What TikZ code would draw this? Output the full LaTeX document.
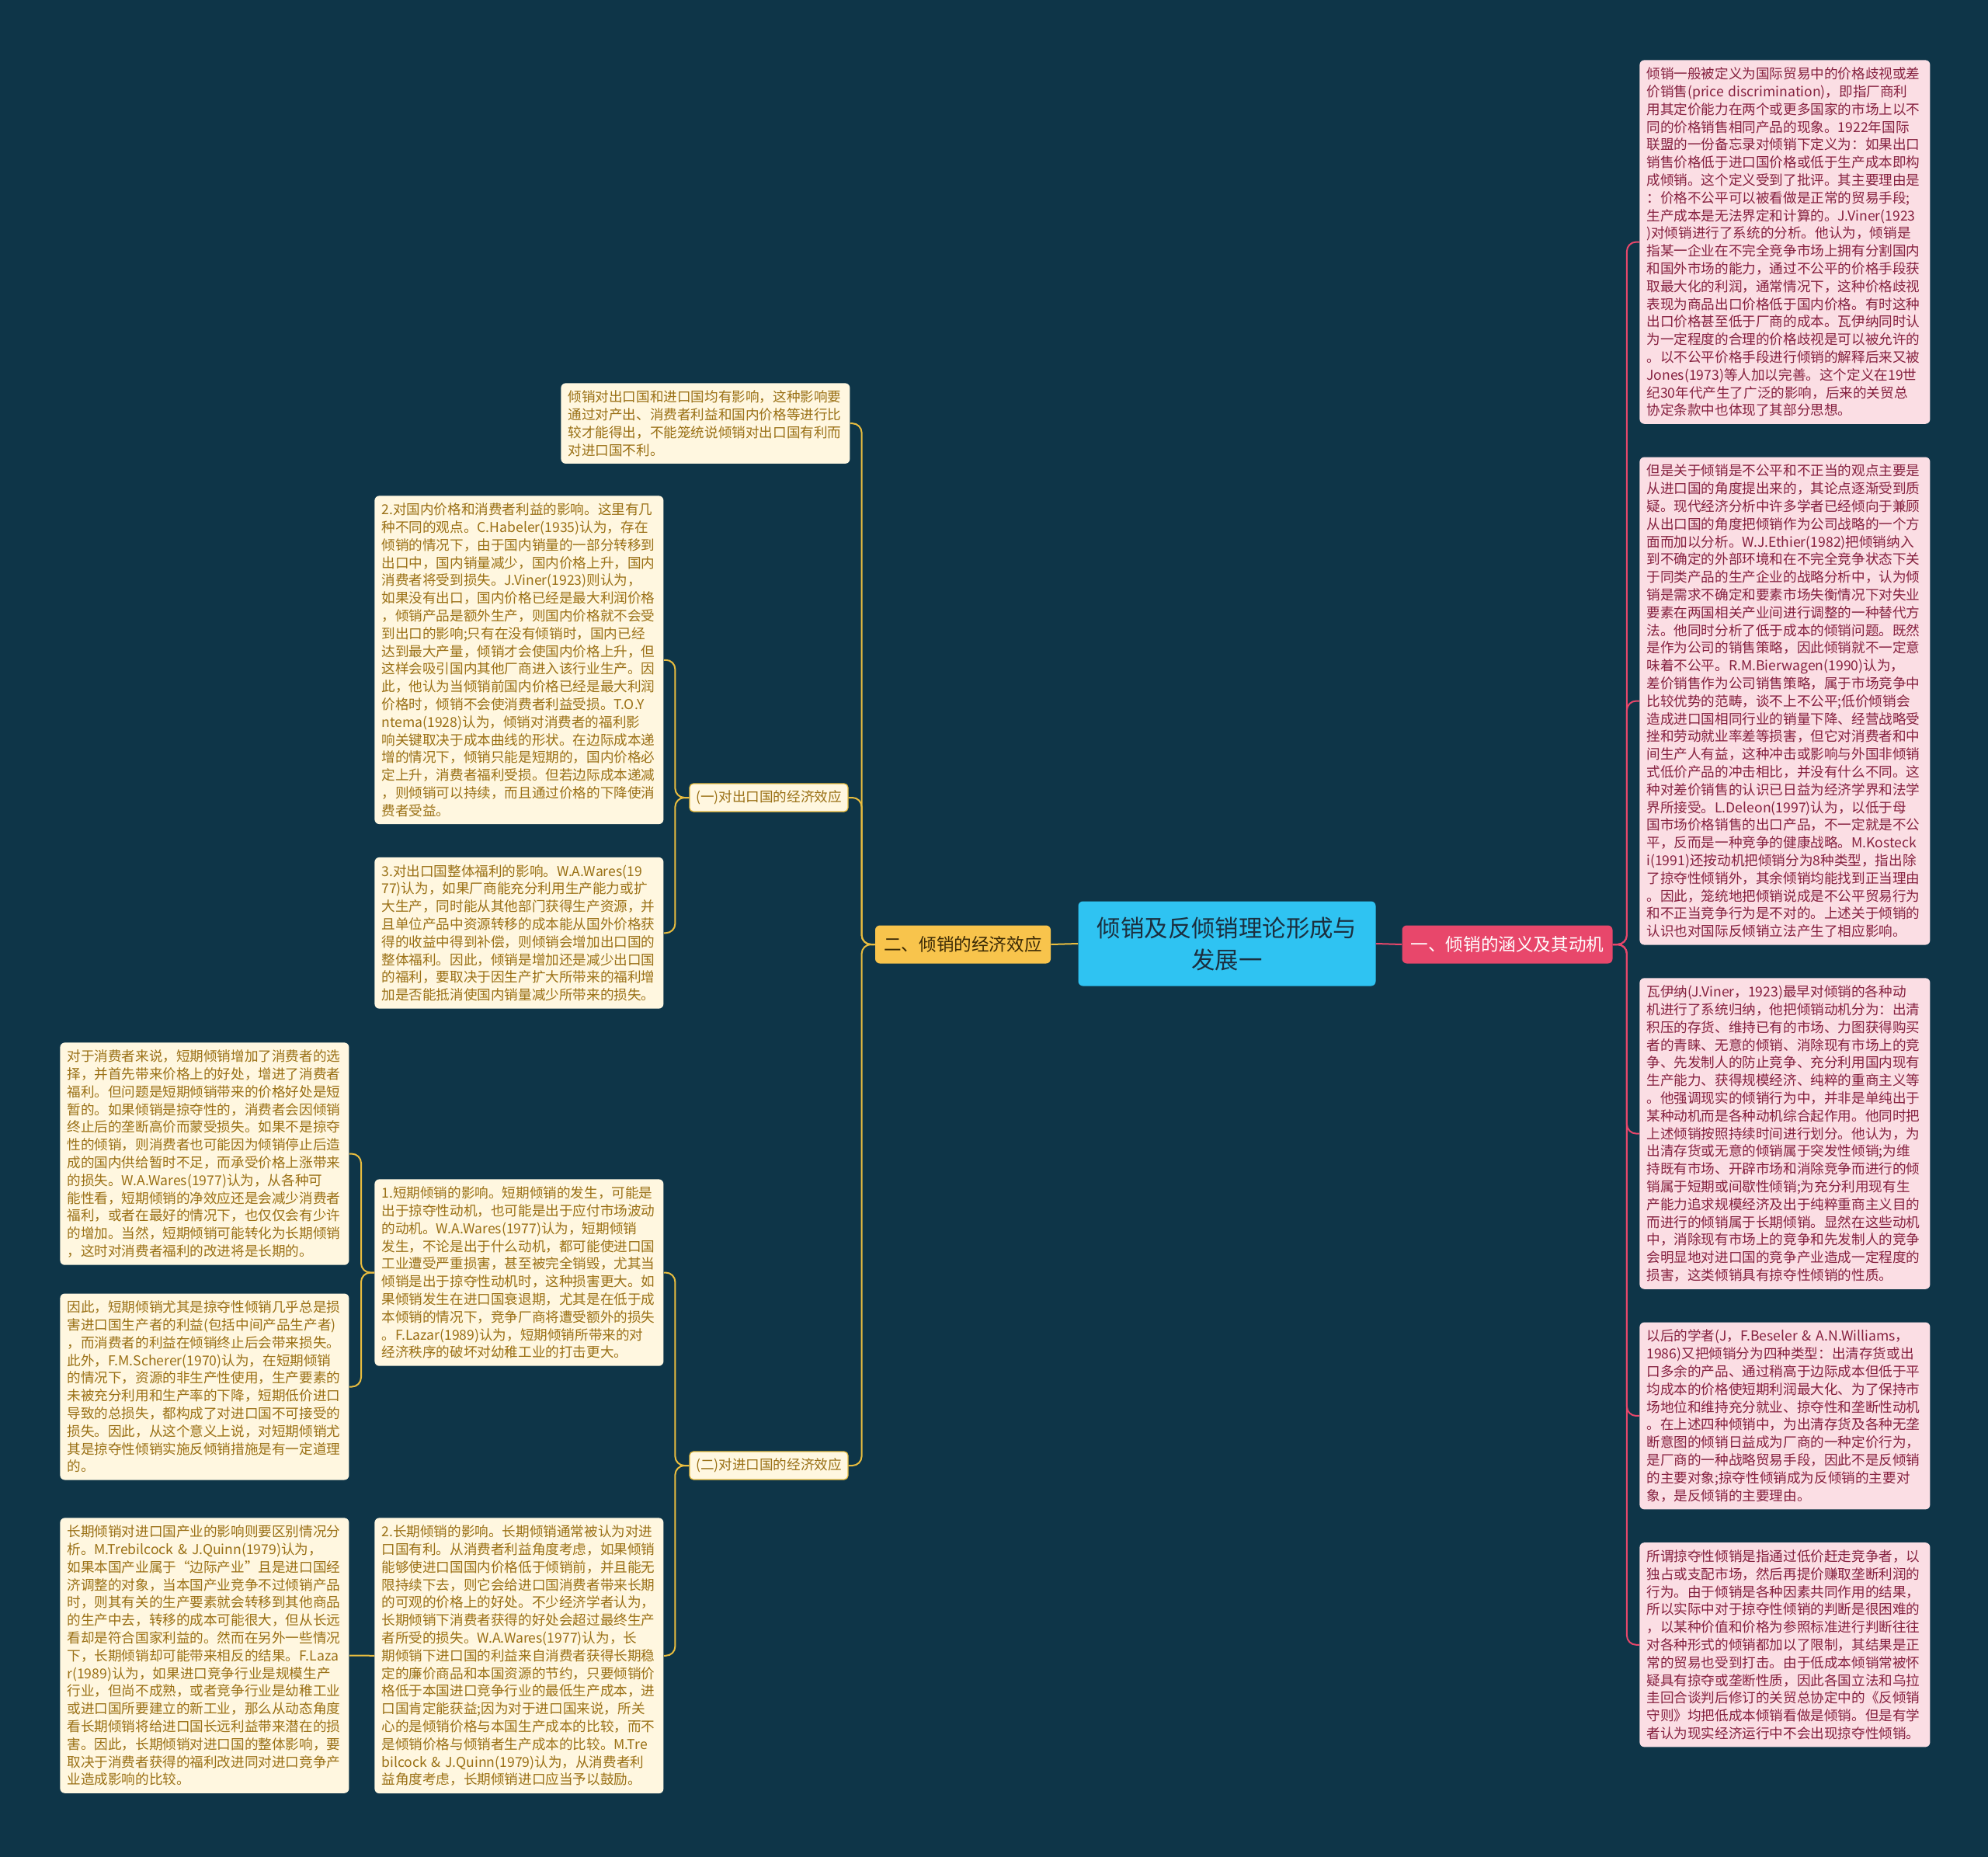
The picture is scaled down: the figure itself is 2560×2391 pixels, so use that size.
\documentclass[tikz,border=0pt]{standalone}
\usepackage{fontspec}
\setmainfont{Noto Sans CJK SC}
\usepackage{xcolor}
\usetikzlibrary{positioning}
\definecolor{BgNavy}{HTML}{0E3548}
\definecolor{RootBlue}{HTML}{2FC3F2}
\definecolor{RootText}{HTML}{1B2F3F}
\definecolor{BranchRed}{HTML}{E8476B}
\definecolor{BranchYellow}{HTML}{F8C44C}
\definecolor{BranchText}{HTML}{3B2A05}
\definecolor{LinkYellow}{HTML}{E9BD3F}
\definecolor{LeafCream}{HTML}{FFF7E0}
\definecolor{LeafBrown}{HTML}{9A7015}
\definecolor{LeafPink}{HTML}{FBDEE4}
\definecolor{LeafMaroon}{HTML}{85203F}
\hyphenpenalty=10000
\exhyphenpenalty=10000

\begin{document}
\begin{tikzpicture}[
            x=0.5pt, y=-0.5pt,
            node distance=21pt,
            root/.style={fill=RootBlue, rounded corners=3pt, text=RootText, minimum width=191.5pt, minimum height=54.5pt, align=center, font=\fontsize{15.2pt}{20.5pt}\selectfont},
            branchr/.style={fill=BranchRed, rounded corners=3pt, text=white, minimum width=135.5pt, minimum height=24.5pt, font=\fontsize{11.3pt}{13pt}\selectfont},
            branchy/.style={fill=BranchYellow, rounded corners=3pt, text=BranchText, minimum width=113pt, minimum height=24.5pt, font=\fontsize{11.3pt}{13pt}\selectfont},
            subbox/.style={draw=LinkYellow, line width=0.6pt, fill=LeafCream, rounded corners=2.5pt, text=LeafBrown, minimum width=102pt, minimum height=18pt, font=\fontsize{8.8pt}{10pt}\selectfont},
            leaf/.style={rounded corners=3pt, inner xsep=4.5pt, inner ysep=4.7pt, align=left, font=\fontsize{8.8pt}{11.4pt}\selectfont},
            leafr/.style={leaf, fill=LeafPink, text=LeafMaroon, text width=178pt},
            leafy/.style={leaf, fill=LeafCream, text=LeafBrown, text width=177pt},
            rlink/.style={draw=BranchRed, line width=1pt, rounded corners=6pt},
            ylink/.style={draw=LinkYellow, line width=1pt, rounded corners=6pt}
        ]
            \path[use as bounding box, fill=BgNavy] (0,0) rectangle (2560,2391);

            % centre and the two main branches
            \node[root] (root) at (1580,1215) {倾销及反倾销理论形成与\\发展一};
            \node[branchr] (rb) at (1941,1216) {一、倾销的涵义及其动机};
            \node[branchy] (lb) at (1240,1216) {二、倾销的经济效应};

            % right side
            \node[leafr, anchor=north west] (r1) at (2111,77) {倾销一般被定义为国际贸易中的价格歧视或差\\
价销售(price~discrimination)，即指厂商利\\
用其定价能力在两个或更多国家的市场上以不\\
同的价格销售相同产品的现象。1922年国际\\
联盟的一份备忘录对倾销下定义为：如果出口\\
销售价格低于进口国价格或低于生产成本即构\\
成倾销。这个定义受到了批评。其主要理由是\\
：价格不公平可以被看做是正常的贸易手段;\\
生产成本是无法界定和计算的。J.Viner(1923\\
)对倾销进行了系统的分析。他认为，倾销是\\
指某一企业在不完全竞争市场上拥有分割国内\\
和国外市场的能力，通过不公平的价格手段获\\
取最大化的利润，通常情况下，这种价格歧视\\
表现为商品出口价格低于国内价格。有时这种\\
出口价格甚至低于厂商的成本。瓦伊纳同时认\\
为一定程度的合理的价格歧视是可以被允许的\\
。以不公平价格手段进行倾销的解释后来又被\\
Jones(1973)等人加以完善。这个定义在19世\\
纪30年代产生了广泛的影响，后来的关贸总\\
协定条款中也体现了其部分思想。};
            \node[leafr, below=of r1] (r2) {但是关于倾销是不公平和不正当的观点主要是\\
从进口国的角度提出来的，其论点逐渐受到质\\
疑。现代经济分析中许多学者已经倾向于兼顾\\
从出口国的角度把倾销作为公司战略的一个方\\
面而加以分析。W.J.Ethier(1982)把倾销纳入\\
到不确定的外部环境和在不完全竞争状态下关\\
于同类产品的生产企业的战略分析中，认为倾\\
销是需求不确定和要素市场失衡情况下对失业\\
要素在两国相关产业间进行调整的一种替代方\\
法。他同时分析了低于成本的倾销问题。既然\\
是作为公司的销售策略，因此倾销就不一定意\\
味着不公平。R.M.Bierwagen(1990)认为，\\
差价销售作为公司销售策略，属于市场竞争中\\
比较优势的范畴，谈不上不公平;低价倾销会\\
造成进口国相同行业的销量下降、经营战略受\\
挫和劳动就业率差等损害，但它对消费者和中\\
间生产人有益，这种冲击或影响与外国非倾销\\
式低价产品的冲击相比，并没有什么不同。这\\
种对差价销售的认识已日益为经济学界和法学\\
界所接受。L.Deleon(1997)认为，以低于母\\
国市场价格销售的出口产品，不一定就是不公\\
平，反而是一种竞争的健康战略。M.Kosteck\\
i(1991)还按动机把倾销分为8种类型，指出除\\
了掠夺性倾销外，其余倾销均能找到正当理由\\
。因此，笼统地把倾销说成是不公平贸易行为\\
和不正当竞争行为是不对的。上述关于倾销的\\
认识也对国际反倾销立法产生了相应影响。};
            \node[leafr, below=of r2] (r3) {瓦伊纳(J.Viner，1923)最早对倾销的各种动\\
机进行了系统归纳，他把倾销动机分为：出清\\
积压的存货、维持已有的市场、力图获得购买\\
者的青睐、无意的倾销、消除现有市场上的竞\\
争、先发制人的防止竞争、充分利用国内现有\\
生产能力、获得规模经济、纯粹的重商主义等\\
。他强调现实的倾销行为中，并非是单纯出于\\
某种动机而是各种动机综合起作用。他同时把\\
上述倾销按照持续时间进行划分。他认为，为\\
出清存货或无意的倾销属于突发性倾销;为维\\
持既有市场、开辟市场和消除竞争而进行的倾\\
销属于短期或间歇性倾销;为充分利用现有生\\
产能力追求规模经济及出于纯粹重商主义目的\\
而进行的倾销属于长期倾销。显然在这些动机\\
中，消除现有市场上的竞争和先发制人的竞争\\
会明显地对进口国的竞争产业造成一定程度的\\
损害，这类倾销具有掠夺性倾销的性质。};
            \node[leafr, below=of r3] (r4) {以后的学者(J，F.Beseler~\&~A.N.Williams，\\
1986)又把倾销分为四种类型：出清存货或出\\
口多余的产品、通过稍高于边际成本但低于平\\
均成本的价格使短期利润最大化、为了保持市\\
场地位和维持充分就业、掠夺性和垄断性动机\\
。在上述四种倾销中，为出清存货及各种无垄\\
断意图的倾销日益成为厂商的一种定价行为，\\
是厂商的一种战略贸易手段，因此不是反倾销\\
的主要对象;掠夺性倾销成为反倾销的主要对\\
象，是反倾销的主要理由。};
            \node[leafr, below=of r4] (r5) {所谓掠夺性倾销是指通过低价赶走竞争者，以\\
独占或支配市场，然后再提价赚取垄断利润的\\
行为。由于倾销是各种因素共同作用的结果，\\
所以实际中对于掠夺性倾销的判断是很困难的\\
，以某种价值和价格为参照标准进行判断往往\\
对各种形式的倾销都加以了限制，其结果是正\\
常的贸易也受到打击。由于低成本倾销常被怀\\
疑具有掠夺或垄断性质，因此各国立法和乌拉\\
圭回合谈判后修订的关贸总协定中的《反倾销\\
守则》均把低成本倾销看做是倾销。但是有学\\
者认为现实经济运行中不会出现掠夺性倾销。};

            % left side
            \node[leafy, anchor=north west] (m0) at (722,493) {倾销对出口国和进口国均有影响，这种影响要\\
通过对产出、消费者利益和国内价格等进行比\\
较才能得出，不能笼统说倾销对出口国有利而\\
对进口国不利。};
            \node[subbox] (ex) at (990,1027) {(一)对出口国的经济效应};
            \node[subbox] (im) at (990,1887) {(二)对进口国的经济效应};

            \node[leafy, anchor=north west] (e2) at (482,638) {2.对国内价格和消费者利益的影响。这里有几\\
种不同的观点。C.Habeler(1935)认为，存在\\
倾销的情况下，由于国内销量的一部分转移到\\
出口中，国内销量减少，国内价格上升，国内\\
消费者将受到损失。J.Viner(1923)则认为，\\
如果没有出口，国内价格已经是最大利润价格\\
，倾销产品是额外生产，则国内价格就不会受\\
到出口的影响;只有在没有倾销时，国内已经\\
达到最大产量，倾销才会使国内价格上升，但\\
这样会吸引国内其他厂商进入该行业生产。因\\
此，他认为当倾销前国内价格已经是最大利润\\
价格时，倾销不会使消费者利益受损。T.O.Y\\
ntema(1928)认为，倾销对消费者的福利影\\
响关键取决于成本曲线的形状。在边际成本递\\
增的情况下，倾销只能是短期的，国内价格必\\
定上升，消费者福利受损。但若边际成本递减\\
，则倾销可以持续，而且通过价格的下降使消\\
费者受益。};
            \node[leafy, below=of e2] (e3) {3.对出口国整体福利的影响。W.A.Wares(19\\
77)认为，如果厂商能充分利用生产能力或扩\\
大生产，同时能从其他部门获得生产资源，并\\
且单位产品中资源转移的成本能从国外价格获\\
得的收益中得到补偿，则倾销会增加出口国的\\
整体福利。因此，倾销是增加还是减少出口国\\
的福利，要取决于因生产扩大所带来的福利增\\
加是否能抵消使国内销量减少所带来的损失。};

            \node[leafy, anchor=north west] (i1) at (482,1518) {1.短期倾销的影响。短期倾销的发生，可能是\\
出于掠夺性动机，也可能是出于应付市场波动\\
的动机。W.A.Wares(1977)认为，短期倾销\\
发生，不论是出于什么动机，都可能使进口国\\
工业遭受严重损害，甚至被完全销毁，尤其当\\
倾销是出于掠夺性动机时，这种损害更大。如\\
果倾销发生在进口国衰退期，尤其是在低于成\\
本倾销的情况下，竞争厂商将遭受额外的损失\\
。F.Lazar(1989)认为，短期倾销所带来的对\\
经济秩序的破坏对幼稚工业的打击更大。};
            \node[leafy, anchor=north west] (i2) at (482,1954) {2.长期倾销的影响。长期倾销通常被认为对进\\
口国有利。从消费者利益角度考虑，如果倾销\\
能够使进口国国内价格低于倾销前，并且能无\\
限持续下去，则它会给进口国消费者带来长期\\
的可观的价格上的好处。不少经济学者认为，\\
长期倾销下消费者获得的好处会超过最终生产\\
者所受的损失。W.A.Wares(1977)认为，长\\
期倾销下进口国的利益来自消费者获得长期稳\\
定的廉价商品和本国资源的节约，只要倾销价\\
格低于本国进口竞争行业的最低生产成本，进\\
口国肯定能获益;因为对于进口国来说，所关\\
心的是倾销价格与本国生产成本的比较，而不\\
是倾销价格与倾销者生产成本的比较。M.Tre\\
bilcock~\&~J.Quinn(1979)认为，从消费者利\\
益角度考虑，长期倾销进口应当予以鼓励。};

            \node[leafy, anchor=north west] (l1) at (77,1342) {对于消费者来说，短期倾销增加了消费者的选\\
择，并首先带来价格上的好处，增进了消费者\\
福利。但问题是短期倾销带来的价格好处是短\\
暂的。如果倾销是掠夺性的，消费者会因倾销\\
终止后的垄断高价而蒙受损失。如果不是掠夺\\
性的倾销，则消费者也可能因为倾销停止后造\\
成的国内供给暂时不足，而承受价格上涨带来\\
的损失。W.A.Wares(1977)认为，从各种可\\
能性看，短期倾销的净效应还是会减少消费者\\
福利，或者在最好的情况下，也仅仅会有少许\\
的增加。当然，短期倾销可能转化为长期倾销\\
，这时对消费者福利的改进将是长期的。};
            \node[leafy, below=18pt of l1] (l2) {因此，短期倾销尤其是掠夺性倾销几乎总是损\\
害进口国生产者的利益(包括中间产品生产者)\\
，而消费者的利益在倾销终止后会带来损失。\\
此外，F.M.Scherer(1970)认为，在短期倾销\\
的情况下，资源的非生产性使用，生产要素的\\
未被充分利用和生产率的下降，短期低价进口\\
导致的总损失，都构成了对进口国不可接受的\\
损失。因此，从这个意义上说，对短期倾销尤\\
其是掠夺性倾销实施反倾销措施是有一定道理\\
的。};
            \node[leafy, anchor=north west] (l3) at (77,1954) {长期倾销对进口国产业的影响则要区别情况分\\
析。M.Trebilcock~\&~J.Quinn(1979)认为，\\
如果本国产业属于“边际产业”且是进口国经\\
济调整的对象，当本国产业竞争不过倾销产品\\
时，则其有关的生产要素就会转移到其他商品\\
的生产中去，转移的成本可能很大，但从长远\\
看却是符合国家利益的。然而在另外一些情况\\
下，长期倾销却可能带来相反的结果。F.Laza\\
r(1989)认为，如果进口竞争行业是规模生产\\
行业，但尚不成熟，或者竞争行业是幼稚工业\\
或进口国所要建立的新工业，那么从动态角度\\
看长期倾销将给进口国长远利益带来潜在的损\\
害。因此，长期倾销对进口国的整体影响，要\\
取决于消费者获得的福利改进同对进口竞争产\\
业造成影响的比较。};

            % connectors
            \draw[rlink] (root.east) -- (rb.west);
            \draw[ylink] (root.west) -- (lb.east);
            \foreach \leaf in {r1,r2,r3,r4,r5}
                \draw[rlink] (rb.east) -- ++(18,0) |- (\leaf.west);
            \foreach \leaf in {m0,ex,im}
                \draw[ylink] (lb.west) -- ++(-17,0) |- (\leaf.east);
            \foreach \leaf in {e2,e3}
                \draw[ylink] (ex.west) -- ++(-18,0) |- (\leaf.east);
            \foreach \leaf in {i1,i2}
                \draw[ylink] (im.west) -- ++(-18,0) |- (\leaf.east);
            \foreach \leaf in {l1,l2}
                \draw[ylink] (i1.west) -- ++(-17,0) |- (\leaf.east);
            \draw[ylink] (i2.west) -- (l3.east);

        \end{tikzpicture}
\end{document}
